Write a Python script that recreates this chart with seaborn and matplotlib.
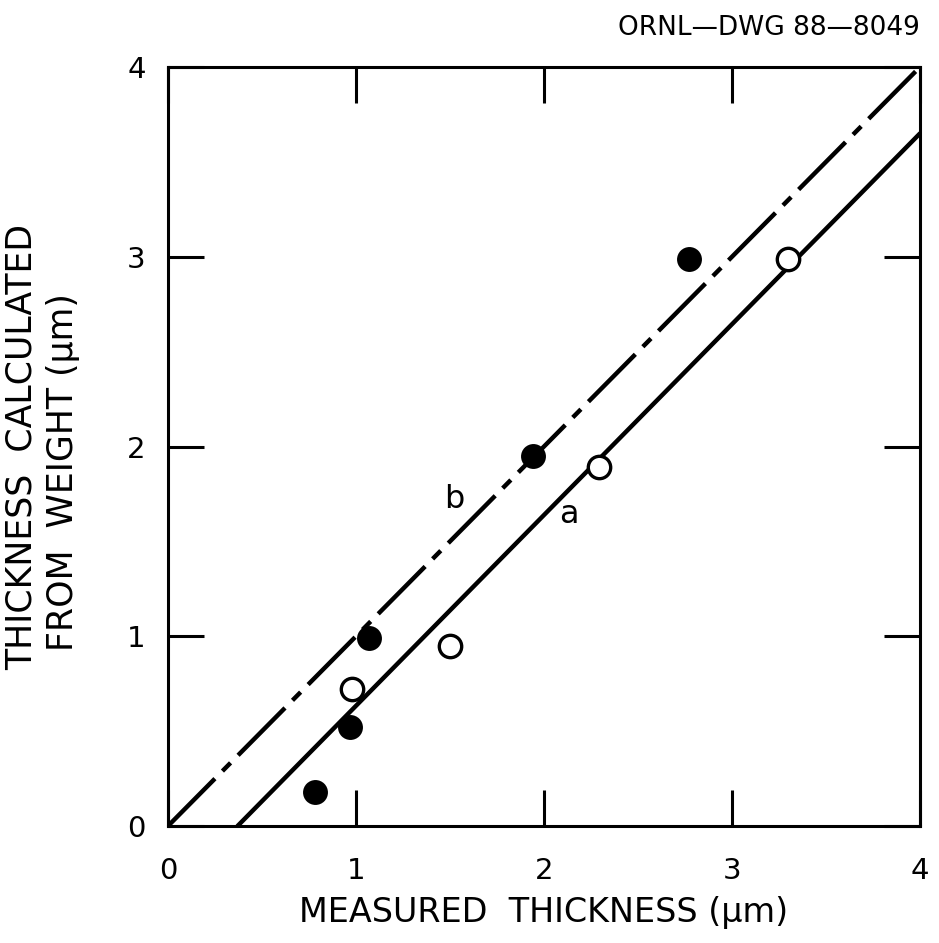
import matplotlib
matplotlib.use("Agg")
import matplotlib.pyplot as plt
import seaborn as sns
import pandas as pd

# Data
filled_x = [0.78, 0.97, 1.07, 1.94, 2.77]
filled_y = [0.18, 0.52, 0.99, 1.95, 2.99]
open_x = [0.98, 1.50, 2.29, 3.30]
open_y = [0.72, 0.95, 1.89, 2.99]
line_b_x = [0.0, 4.0]
line_b_y = [0.0, 4.0]
line_a_x = [0.37, 4.0]
line_a_y = [0.0, 3.65]
ticks = [0, 1, 2, 3, 4]
tick_labels = ["0", "1", "2", "3", "4"]

sns.set_style("white")
plt.rcParams['font.family'] = ['DejaVu Sans']
plt.rcParams['text.color'] = 'black'

fig = plt.figure(figsize=(9.39, 9.43), dpi=100)
ax = fig.add_axes([168/939, 1-826/943, (920-168)/939, (826-67)/943])

df_b = pd.DataFrame({"x": line_b_x, "y": line_b_y})
df_a = pd.DataFrame({"x": line_a_x, "y": line_a_y})
sns.lineplot(data=df_b, x="x", y="y", ax=ax, color="black", lw=3.2,
             estimator=None, sort=False)
ax.lines[-1].set_dashes([15, 2.4, 2.6, 2.4])
sns.lineplot(data=df_a, x="x", y="y", ax=ax, color="black", lw=3.2,
             estimator=None, sort=False)

df_f = pd.DataFrame({"x": filled_x, "y": filled_y})
df_o = pd.DataFrame({"x": open_x, "y": open_y})
sns.scatterplot(data=df_f, x="x", y="y", ax=ax, s=270, color="black",
                edgecolor="black", linewidth=1.5, zorder=5)
sns.scatterplot(data=df_o, x="x", y="y", ax=ax, s=260, color="white",
                edgecolor="black", linewidth=2.4, zorder=5)

ax.set_xlim(0, 4)
ax.set_ylim(0, 4)
ax.set_xticks(ticks)
ax.set_xticklabels(tick_labels)
ax.set_yticks(ticks)
ax.set_yticklabels(tick_labels)
for sp in ax.spines.values():
    sp.set_visible(True)
    sp.set_linewidth(2.2)
    sp.set_color("black")
ax.tick_params(axis="both", which="both", direction="in", length=26, width=2.2,
               bottom=True, left=True, top=True, right=True,
               labelsize=21, colors="black")
ax.tick_params(axis="x", pad=22)
ax.tick_params(axis="y", pad=16)

ax.set_xlabel("MEASURED  THICKNESS (μm)", fontsize=24, labelpad=8,
              color="black")
ax.set_ylabel("")
fig.text(22/939, 1-447/943, "THICKNESS  CALCULATED", fontsize=25,
         rotation=90, ha="center", va="center", color="black")
fig.text(63/939, 1-472/943, "FROM  WEIGHT (μm)", fontsize=25,
         rotation=90, ha="center", va="center", color="black")

ax.text(1.52, 1.72, "b", fontsize=23, ha="center", va="center")
ax.text(2.13, 1.64, "a", fontsize=23, ha="center", va="center")

fig.text(920/939, 1-28/943, "ORNL—DWG 88—8049", fontsize=19,
         ha="right", va="center", color="black")

fig.savefig("out.png", dpi=100, facecolor="white")
